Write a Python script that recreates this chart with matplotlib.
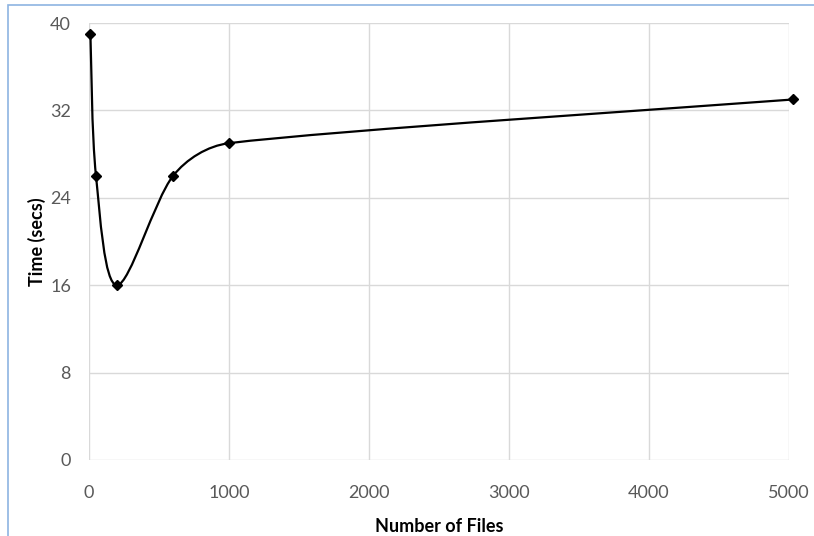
import matplotlib.pyplot as plt
import numpy as np
from matplotlib.path import Path
from matplotlib.patches import PathPatch, Rectangle

plt.rcParams['font.family'] = ['Lato', 'DejaVu Sans']

# data
num_files = [10, 50, 200, 600, 1000, 5030]
time_secs = [39, 26, 16, 26, 29, 33]
x_ticks = [0, 1000, 2000, 3000, 4000, 5000]
y_ticks = [0, 8, 16, 24, 32, 40]


def smooth_path(ax, xs, ys):
    """Excel-like smoothed line: Catmull-Rom Bezier in display space, arms capped."""
    pts = ax.transData.transform(np.column_stack([xs, ys]))
    n = len(pts)
    verts = [pts[0]]
    codes = [Path.MOVETO]
    for i in range(n - 1):
        p0 = pts[max(i - 1, 0)]
        p1, p2 = pts[i], pts[i + 1]
        p3 = pts[min(i + 2, n - 1)]
        seg = np.hypot(*(p2 - p1))
        t1 = (p2 - p0) / 6
        t2 = (p3 - p1) / 6
        for t in (t1, t2):
            L = np.hypot(*t)
            if L > seg / 3:
                t *= (seg / 3) / L
        verts += [p1 + t1, p2 - t2, p2]
        codes += [Path.CURVE4] * 3
    verts = ax.transData.inverted().transform(np.array(verts))
    return Path(verts, codes)


fig = plt.figure(figsize=(8.14, 5.36), dpi=100)
ax = fig.add_axes([89 / 814, 1 - 460 / 536, 700 / 814, 437 / 536])

ax.set_xlim(0, 5000)
ax.set_ylim(0, 40)
ax.set_xticks(x_ticks)
ax.set_yticks(y_ticks)
ax.grid(True, color='#d9d9d9', linewidth=1.0)
ax.set_axisbelow(True)
for s in ax.spines.values():
    s.set_visible(False)
ax.tick_params(length=0, colors='#595959', labelsize=13)
ax.tick_params(axis='x', pad=18)
ax.tick_params(axis='y', pad=13)

patch = PathPatch(smooth_path(ax, num_files, time_secs), facecolor='none',
                  edgecolor='black', linewidth=1.6, clip_on=False, zorder=3)
ax.add_patch(patch)
ax.plot(num_files, time_secs, linestyle='none', marker='D', markersize=5.5,
        color='black', clip_on=False, zorder=4)

ax.set_xlabel('Number of Files', fontsize=13, fontweight='bold', color='black', labelpad=12)
ax.set_ylabel('Time (secs)', fontsize=13, fontweight='bold', color='black', labelpad=3)

# chart area border (only top and left edge visible)
fig.add_artist(Rectangle((8 / 814, -0.1), 1.2, 1 - 5 / 536 + 0.1,
                         transform=fig.transFigure, fill=False,
                         edgecolor='#8db4e2', linewidth=1.2))

fig.savefig('out.png', dpi=100)
